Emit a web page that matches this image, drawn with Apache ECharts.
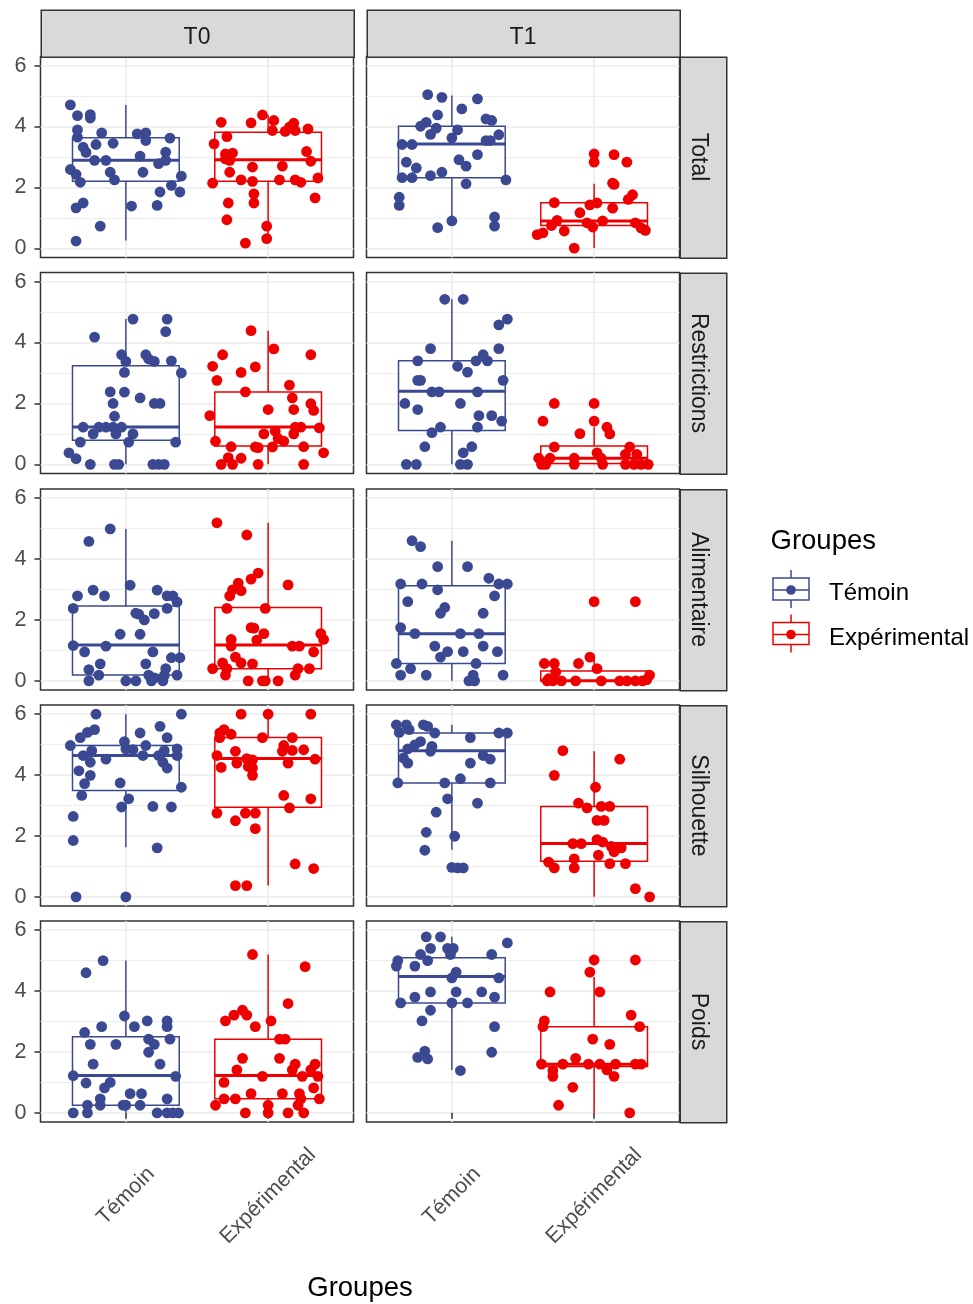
<!DOCTYPE html>
<html><head><meta charset="utf-8">
<script src="https://cdn.jsdelivr.net/npm/echarts@6/dist/echarts.min.js"></script>
<style>html,body{margin:0;padding:0;background:#fff}#c{width:973px;height:1304px}</style>
</head><body><div id="c"></div>
<script>
// ---------- categories ----------
const facets = ['Total', 'Restrictions', 'Alimentaire', 'Silhouette', 'Poids'];
const times = ['T0', 'T1'];
const groups = ['Témoin', 'Expérimental'];
const yTicks = [0, 2, 4, 6];
const yMinor = [1, 3, 5];
const xTicks = [1, 2];

// ---------- jittered points [x, value] ----------
const total_T0_temoin = [[0.61,4.71],[0.66,4.36],[0.75,4.28],[0.75,4.39],[0.66,3.89],[0.66,3.65],[0.83,3.79],[1.08,3.76],[1.14,3.79],[1.14,3.54],[1.31,3.62],[0.70,3.32],[0.72,3.15],[0.79,3.41],[0.91,3.45],[0.78,2.89],[0.86,2.89],[1.10,3.03],[1.28,3.16],[1.28,2.89],[1.23,2.78],[0.61,2.59],[0.65,2.43],[0.68,2.17],[0.89,2.50],[0.92,2.25],[1.12,2.50],[1.39,2.37],[1.32,2.07],[1.38,1.85],[1.24,1.85],[1.22,1.41],[1.04,1.39],[0.70,1.49],[0.65,1.33],[0.82,0.73],[0.65,0.24]];
const total_T0_exp = [[1.67,4.14],[1.62,3.43],[1.71,3.67],[1.88,4.12],[1.96,4.38],[2.04,4.20],[2.03,3.87],[2.12,3.84],[2.18,4.11],[2.15,3.98],[2.19,3.87],[2.28,3.92],[1.70,3.10],[1.75,3.13],[1.73,2.89],[1.70,2.94],[2.27,3.18],[2.30,2.86],[1.61,2.14],[1.73,2.50],[1.81,2.25],[1.89,2.20],[1.89,2.67],[2.10,2.70],[2.08,2.25],[2.19,2.25],[2.23,2.17],[2.35,2.31],[2.33,1.66],[1.72,1.49],[1.90,1.79],[1.90,1.49],[1.71,0.94],[1.99,0.73],[1.99,0.32],[1.84,0.17]];
const total_T1_temoin = [[0.83,5.05],[0.93,4.96],[1.18,4.91],[1.07,4.58],[0.90,4.38],[0.82,4.14],[0.78,4.01],[0.89,3.95],[0.85,3.74],[1.04,3.89],[1.00,3.63],[1.24,4.25],[1.28,4.20],[1.33,3.73],[1.24,3.54],[1.27,3.54],[0.65,3.41],[0.72,3.41],[0.68,2.83],[0.75,2.64],[1.05,2.91],[1.10,2.70],[1.18,3.08],[0.65,2.32],[0.72,2.32],[0.85,2.39],[0.93,2.50],[1.38,2.25],[1.10,2.12],[0.63,1.68],[0.63,1.41],[0.90,0.68],[1.00,0.90],[1.30,1.03],[1.30,0.73]];
const total_T1_exp = [[2.00,3.10],[2.00,2.83],[2.14,3.08],[2.23,2.83],[2.13,2.14],[2.14,2.10],[2.27,1.76],[2.24,1.61],[1.72,1.50],[1.97,1.43],[2.02,1.49],[2.13,1.32],[1.90,1.17],[1.74,0.92],[1.70,0.75],[1.79,0.57],[1.64,0.51],[1.60,0.45],[1.95,0.84],[1.99,0.70],[2.06,0.90],[2.29,0.84],[2.33,0.67],[2.36,0.59],[1.86,0.01]];

const restr_T0_temoin = [[1.05,4.77],[1.29,4.77],[1.28,4.36],[0.78,4.18],[0.97,3.60],[1.00,3.38],[1.14,3.60],[1.16,3.46],[1.20,3.38],[1.32,3.40],[0.99,3.02],[1.39,3.00],[0.89,2.38],[0.99,2.37],[1.10,2.18],[0.91,2.00],[1.20,2.00],[1.24,2.00],[0.92,1.58],[0.70,1.22],[0.81,1.22],[0.86,1.22],[0.91,1.22],[0.97,1.22],[0.77,1.00],[0.93,1.00],[1.05,1.00],[0.68,0.73],[1.02,0.73],[1.35,0.73],[0.60,0.38],[0.65,0.19],[0.75,0.00],[0.92,0.00],[0.95,0.00],[1.19,0.00],[1.23,0.00],[1.27,0.00]];
const restr_T0_exp = [[1.88,4.39],[2.04,3.79],[1.68,3.60],[2.30,3.60],[1.61,3.22],[1.81,3.02],[1.91,3.20],[1.64,2.76],[1.84,2.38],[2.15,2.60],[2.17,2.18],[1.59,1.60],[2.00,1.80],[2.18,1.80],[2.30,1.99],[2.32,1.77],[2.19,1.22],[2.23,1.22],[2.36,1.20],[1.97,1.00],[2.05,1.09],[2.18,1.00],[1.63,0.76],[2.07,0.85],[2.11,0.76],[1.74,0.58],[1.91,0.57],[1.93,0.55],[2.03,0.57],[2.25,0.58],[2.39,0.38],[1.67,0.00],[1.72,0.22],[1.75,0.00],[1.81,0.20],[1.93,0.00],[2.25,0.00]];
const restr_T1_temoin = [[0.95,5.42],[1.08,5.42],[1.39,4.77],[1.33,4.58],[0.85,3.80],[1.33,3.80],[0.76,3.40],[1.17,3.40],[1.22,3.60],[1.25,3.40],[1.04,3.22],[1.11,3.03],[0.76,2.76],[0.78,2.76],[1.36,2.76],[0.86,2.38],[0.91,2.38],[1.18,2.38],[0.67,2.00],[0.76,1.80],[1.06,2.00],[1.19,1.60],[1.28,1.60],[1.35,1.42],[0.92,1.22],[0.86,1.04],[1.18,1.22],[0.81,0.58],[1.14,0.58],[1.08,0.38],[0.68,0.00],[0.75,0.00],[1.06,0.00],[1.11,0.00]];
const restr_T1_exp = [[1.72,2.00],[2.00,2.00],[1.64,1.42],[2.00,1.42],[2.09,1.22],[2.11,1.00],[1.90,1.01],[1.72,0.57],[2.02,0.38],[2.25,0.57],[1.61,0.20],[1.69,0.20],[1.86,0.20],[2.05,0.20],[2.22,0.33],[2.30,0.33],[1.63,0.00],[1.66,0.00],[1.86,0.00],[2.06,0.00],[2.22,0.00],[2.28,0.00],[2.33,0.00],[2.38,0.00]];

const alim_T0_temoin = [[0.89,4.99],[0.74,4.58],[1.03,3.14],[0.77,2.98],[0.66,2.79],[0.85,2.79],[1.22,2.98],[1.29,2.79],[1.33,2.79],[1.36,2.59],[0.63,2.38],[1.29,2.38],[1.07,2.22],[1.09,2.19],[1.13,2.00],[1.20,2.21],[0.96,1.53],[1.10,1.53],[0.63,1.16],[0.86,1.14],[0.71,0.95],[1.19,0.95],[1.32,0.76],[1.38,0.76],[0.82,0.56],[1.14,0.56],[0.74,0.37],[0.81,0.19],[1.28,0.40],[1.16,0.19],[1.36,0.19],[0.74,0.00],[1.00,0.00],[1.07,0.00],[1.18,0.00],[1.20,0.10],[1.26,0.00],[1.27,0.18]];
const alim_T0_exp = [[1.64,5.19],[1.85,4.79],[1.93,3.54],[1.88,3.34],[1.79,3.21],[1.75,2.99],[1.81,2.96],[1.73,2.79],[2.14,3.15],[1.71,2.38],[1.98,2.38],[1.88,1.75],[1.90,1.73],[1.97,1.55],[1.92,1.34],[1.74,1.36],[1.74,1.14],[2.17,1.14],[2.22,1.14],[2.37,1.55],[2.39,1.36],[2.32,0.95],[1.77,0.78],[1.81,0.59],[1.68,0.59],[1.89,0.56],[1.61,0.40],[1.71,0.40],[1.70,0.19],[2.21,0.40],[2.29,0.40],[2.19,0.19],[1.86,0.00],[1.96,0.00],[1.98,0.00],[2.07,0.00]];
const alim_T1_temoin = [[0.72,4.60],[0.78,4.41],[0.90,3.75],[1.11,3.75],[0.64,3.18],[0.79,3.18],[0.90,2.99],[1.26,3.37],[1.33,3.18],[1.39,3.18],[1.30,2.79],[0.69,2.60],[0.95,2.41],[0.92,2.22],[1.22,2.22],[0.64,1.75],[0.74,1.55],[1.06,1.55],[1.19,1.55],[0.88,1.14],[1.22,1.14],[0.97,0.96],[1.08,0.96],[1.32,0.96],[0.92,0.78],[0.61,0.57],[0.71,0.40],[1.17,0.57],[0.64,0.19],[0.82,0.19],[1.36,0.19],[1.15,0.19],[1.12,0.00],[1.16,0.00]];
const alim_T1_exp = [[2.00,2.60],[2.29,2.60],[1.97,0.78],[1.65,0.57],[1.72,0.57],[1.89,0.57],[2.02,0.40],[1.73,0.29],[1.68,0.07],[2.39,0.19],[1.67,0.00],[1.71,0.00],[1.77,0.00],[1.87,0.00],[2.05,0.00],[2.18,0.00],[2.23,0.00],[2.29,0.00],[2.34,0.00],[2.37,0.04]];

const sil_T0_temoin = [[0.79,6.00],[1.39,6.00],[0.78,5.49],[0.73,5.40],[0.68,5.23],[0.61,4.97],[1.10,5.38],[1.24,5.60],[1.29,5.23],[0.99,5.10],[1.00,4.86],[1.05,4.83],[1.14,4.97],[0.76,4.80],[0.70,4.64],[1.12,4.64],[1.27,4.80],[1.36,4.86],[1.36,4.64],[1.23,4.64],[0.86,4.52],[0.75,4.42],[1.26,4.42],[1.29,4.23],[0.67,4.14],[0.75,3.99],[0.71,3.72],[0.96,3.74],[1.39,3.60],[0.69,3.33],[1.02,3.22],[0.97,2.95],[1.19,2.97],[1.32,2.95],[0.63,2.64],[0.63,1.85],[1.22,1.61],[0.65,0.00],[1.00,0.00]];
const sil_T0_exp = [[1.81,6.00],[2.00,6.00],[2.30,6.00],[1.66,5.38],[1.69,5.49],[1.74,5.34],[1.66,5.23],[1.96,5.23],[2.17,5.23],[2.11,4.97],[2.10,4.78],[2.17,4.81],[2.25,4.83],[1.77,4.78],[1.64,4.64],[1.85,4.54],[1.89,4.50],[1.78,4.39],[1.86,4.28],[1.89,4.23],[1.67,4.25],[2.14,4.39],[2.33,4.52],[1.89,3.99],[2.11,3.33],[2.30,3.22],[1.64,2.75],[1.84,2.75],[1.91,2.75],[2.15,2.92],[1.77,2.50],[1.91,2.24],[2.19,1.08],[2.32,0.93],[1.77,0.37],[1.85,0.37]];
const sil_T1_temoin = [[0.61,5.65],[0.68,5.65],[0.80,5.65],[0.83,5.60],[0.70,5.49],[0.63,5.40],[0.88,5.38],[1.33,5.38],[1.39,5.38],[1.13,5.23],[0.78,5.10],[0.74,4.99],[0.69,4.86],[0.86,4.94],[0.85,4.78],[0.66,4.56],[0.69,4.39],[1.13,4.39],[1.22,4.64],[1.27,4.52],[0.62,3.74],[0.95,3.74],[1.06,3.88],[1.27,3.74],[0.97,3.22],[1.18,3.08],[0.89,2.78],[0.82,2.12],[1.02,1.99],[0.81,1.53],[1.00,0.97],[1.04,0.95],[1.08,0.95]];
const sil_T1_exp = [[1.78,4.80],[2.18,4.52],[1.72,3.99],[2.01,3.60],[1.89,3.08],[1.95,2.92],[2.05,2.97],[2.11,2.97],[2.02,2.51],[2.07,2.51],[1.85,1.75],[1.91,1.75],[2.02,1.88],[2.06,1.80],[2.12,1.66],[2.19,1.61],[2.14,1.48],[2.03,1.37],[1.68,1.14],[1.72,0.95],[1.86,1.25],[1.86,0.95],[2.11,1.09],[2.22,1.09],[2.29,0.27],[2.39,0.00]];

const poids_T0_temoin = [[0.84,5.00],[0.72,4.60],[0.99,3.18],[1.15,3.02],[1.29,3.02],[1.29,2.83],[0.83,2.83],[1.06,2.83],[0.71,2.64],[1.16,2.42],[1.31,2.42],[0.75,2.25],[0.93,2.25],[1.20,2.25],[1.16,1.99],[1.24,1.60],[0.77,1.60],[0.63,1.22],[1.35,1.20],[0.72,0.98],[0.89,1.00],[0.85,0.82],[1.03,0.63],[1.11,0.63],[0.82,0.46],[1.29,0.46],[0.73,0.25],[0.82,0.25],[0.98,0.25],[1.00,0.25],[1.10,0.25],[0.63,0.00],[0.73,0.00],[1.22,0.00],[1.29,0.00],[1.33,0.00],[1.37,0.00]];
const poids_T0_exp = [[1.89,5.20],[2.26,4.80],[2.14,3.59],[1.82,3.37],[1.76,3.21],[1.85,3.21],[1.70,3.02],[2.02,3.02],[1.91,2.83],[2.08,2.42],[2.12,2.42],[1.82,1.79],[2.08,1.79],[2.19,1.60],[2.33,1.60],[1.78,1.41],[2.17,1.41],[2.30,1.41],[1.96,1.20],[2.24,1.20],[2.35,1.20],[1.69,1.00],[2.32,0.82],[1.88,0.63],[2.10,0.63],[2.22,0.63],[1.69,0.46],[1.77,0.46],[2.23,0.46],[2.36,0.46],[1.63,0.25],[2.00,0.25],[2.21,0.25],[1.84,0.00],[2.00,0.00],[2.14,0.00],[2.25,0.00]];
const poids_T1_temoin = [[0.82,5.78],[0.92,5.78],[1.39,5.58],[0.85,5.40],[0.97,5.40],[1.01,5.40],[0.99,5.20],[0.78,5.20],[1.28,5.20],[0.83,5.00],[0.62,5.00],[0.61,4.82],[0.74,4.82],[1.03,4.62],[1.00,4.43],[1.33,4.43],[0.74,3.80],[0.85,3.97],[1.03,3.97],[1.21,3.97],[1.30,3.80],[0.64,3.61],[1.00,3.61],[1.11,3.61],[0.85,3.37],[0.79,3.02],[1.30,2.83],[0.81,2.03],[0.76,1.82],[0.83,1.77],[1.28,1.99],[1.06,1.39]];
const poids_T1_exp = [[2.00,5.02],[2.29,5.02],[1.97,4.62],[1.69,3.97],[2.04,3.97],[2.26,3.21],[1.65,3.02],[1.64,2.83],[2.32,2.83],[1.99,2.42],[2.11,2.25],[1.87,1.79],[1.63,1.60],[1.78,1.60],[1.96,1.60],[2.04,1.60],[2.15,1.60],[2.29,1.60],[2.33,1.60],[1.71,1.39],[1.71,1.20],[2.09,1.41],[2.14,1.20],[1.85,0.84],[1.75,0.25],[2.25,0.00]];

// ---------- box statistics [lower whisker, Q1, median, Q3, upper whisker] ----------
const box_total_T0 = [[0.26,2.20,2.89,3.63,4.71],[0.19,2.20,2.91,3.81,4.38]];
const box_total_T1 = [[0.86,2.32,3.43,4.01,5.02],[0.01,0.75,0.90,1.50,2.12]];
const box_restr_T0 = [[0,0.79,1.23,3.24,4.77],[0,0.60,1.23,2.38,4.39]];
const box_restr_T1 = [[0,1.11,2.40,3.40,5.42],[0,0.03,0.20,0.60,1.22]];
const box_alim_T0 = [[0,0.19,1.18,2.46,4.99],[0,0.40,1.18,2.41,5.19]];
const box_alim_T1 = [[0,0.57,1.55,3.12,4.60],[0,0,0,0.32,0.78]];
const box_sil_T0 = [[1.63,3.49,4.64,4.97,6.0],[0.37,2.94,4.54,5.23,6.0]];
const box_sil_T1 = [[1.55,3.74,4.80,5.38,5.65],[0,1.17,1.75,2.97,4.78]];
const box_poids_T0 = [[0,0.25,1.23,2.50,5.0],[0,0.46,1.23,2.42,5.2]];
const box_poids_T1 = [[1.41,3.61,4.48,5.09,5.78],[0,1.52,1.60,2.83,4.46]];

// ---------- tables for the library ----------
const pointTable = [
  [[total_T0_temoin,total_T0_exp],[total_T1_temoin,total_T1_exp]],
  [[restr_T0_temoin,restr_T0_exp],[restr_T1_temoin,restr_T1_exp]],
  [[alim_T0_temoin,alim_T0_exp],[alim_T1_temoin,alim_T1_exp]],
  [[sil_T0_temoin,sil_T0_exp],[sil_T1_temoin,sil_T1_exp]],
  [[poids_T0_temoin,poids_T0_exp],[poids_T1_temoin,poids_T1_exp]]
];
const boxTable = [
  [box_total_T0, box_total_T1],
  [box_restr_T0, box_restr_T1],
  [box_alim_T0, box_alim_T1],
  [box_sil_T0, box_sil_T1],
  [box_poids_T0, box_poids_T1]
];

// ---------- styling / layout ----------
const COLORS = ['#3B4992', '#EE0000'];
const FONT = 'Liberation Sans, Arial, Helvetica, sans-serif';
const COL_LEFT = [40.5, 366.5];
const PW = 313;
const ROW_TOP = [56.5, 272.5, 489, 705, 921];
const PH = 201;
const BOX_HALF = 0.375;

function renderBox(params, api) {
  const x = api.value(0);
  const lo = api.value(1), q1 = api.value(2), med = api.value(3), q3 = api.value(4), hi = api.value(5);
  const color = COLORS[params.dataIndex];
  const c = v => api.coord([x, v]);
  const tl = api.coord([x - BOX_HALF, q3]);
  const br = api.coord([x + BOX_HALF, q1]);
  const ml = api.coord([x - BOX_HALF, med]);
  const mr = api.coord([x + BOX_HALF, med]);
  const lw = 1.5;
  return {
    type: 'group',
    children: [
      { type: 'line', shape: { x1: c(hi)[0], y1: c(hi)[1], x2: c(q3)[0], y2: c(q3)[1] }, style: { stroke: color, lineWidth: lw } },
      { type: 'line', shape: { x1: c(lo)[0], y1: c(lo)[1], x2: c(q1)[0], y2: c(q1)[1] }, style: { stroke: color, lineWidth: lw } },
      { type: 'rect', shape: { x: tl[0], y: tl[1], width: br[0] - tl[0], height: br[1] - tl[1] }, style: { fill: '#ffffff', stroke: color, lineWidth: lw } },
      { type: 'line', shape: { x1: ml[0], y1: ml[1], x2: mr[0], y2: mr[1] }, style: { stroke: color, lineWidth: 3 } }
    ]
  };
}

const grids = [], xAxes = [], yAxes = [], series = [], graphics = [];

for (let r = 0; r < facets.length; r++) {
  for (let c = 0; c < times.length; c++) {
    const g = r * 2 + c;
    const bottom = r === facets.length - 1;
    const left = c === 0;
    grids.push({ left: COL_LEFT[c], top: ROW_TOP[r], width: PW, height: PH, show: true,
      borderColor: '#333333', borderWidth: 1.5, backgroundColor: '#ffffff', containLabel: false });
    xAxes.push({
      type: 'value', gridIndex: g, min: 0.4, max: 2.6, position: 'bottom',
      axisLine: { show: false },
      axisTick: { show: bottom, customValues: xTicks, length: 6, lineStyle: { color: '#333333', width: 1.5 } },
      axisLabel: { show: bottom, customValues: xTicks, rotate: 45, margin: 74, align: 'center', verticalAlign: 'middle',
        fontFamily: FONT, fontSize: 21.5, color: '#4D4D4D', formatter: v => groups[Math.round(v) - 1] },
      splitLine: { show: true, lineStyle: { color: '#EBEBEB', width: 1.6 } }
    });
    yAxes.push({
      type: 'value', gridIndex: g, min: -0.3, max: 6.3, position: 'left',
      axisLine: { show: false },
      axisTick: { show: left, customValues: yTicks, length: 6, lineStyle: { color: '#333333', width: 1.5 } },
      axisLabel: { show: left, customValues: yTicks, margin: 14, fontFamily: FONT, fontSize: 21.5, color: '#4D4D4D' },
      splitLine: { show: true, lineStyle: { color: '#EBEBEB', width: 1.6 } }
    });
    yAxes.push({
      type: 'value', gridIndex: g, min: -0.3, max: 6.3, position: 'right',
      axisLine: { show: false },
      axisTick: { show: false, customValues: yMinor },
      axisLabel: { show: false, customValues: yMinor },
      splitLine: { show: true, lineStyle: { color: '#EBEBEB', width: 0.9 } }
    });

    const boxes = boxTable[r][c];
    series.push({
      type: 'custom', xAxisIndex: g, yAxisIndex: g * 2, z: 2, silent: true,
      renderItem: renderBox,
      encode: { x: 0, y: [1, 2, 3, 4, 5] },
      data: boxes.map((b, i) => [xTicks[i]].concat(b))
    });
    for (let k = 0; k < groups.length; k++) {
      series.push({
        type: 'scatter', name: groups[k], xAxisIndex: g, yAxisIndex: g * 2, z: 3, silent: true,
        symbol: 'circle', symbolSize: 10.8,
        itemStyle: { color: COLORS[k], opacity: 1 },
        data: pointTable[r][c][k]
      });
    }
  }
}

// facet strips (top)
for (let c = 0; c < times.length; c++) {
  graphics.push({ type: 'rect', left: COL_LEFT[c], top: 9.5, shape: { width: PW, height: 47 },
    style: { fill: '#D9D9D9', stroke: '#333333', lineWidth: 1.5 }, z: 10 });
  graphics.push({ type: 'text', x: COL_LEFT[c] + PW / 2, y: 37.5, z: 11,
    style: { text: times[c], fill: '#1A1A1A', font: '23px ' + FONT, textAlign: 'center', textVerticalAlign: 'middle' } });
}
// facet strips (right)
for (let r = 0; r < facets.length; r++) {
  graphics.push({ type: 'rect', left: COL_LEFT[1] + PW, top: ROW_TOP[r], shape: { width: 46.5, height: PH },
    style: { fill: '#D9D9D9', stroke: '#333333', lineWidth: 1.5 }, z: 10 });
  graphics.push({ type: 'text', x: COL_LEFT[1] + PW + 18.5, y: ROW_TOP[r] + PH / 2, rotation: -Math.PI / 2, z: 11,
    style: { text: facets[r], fill: '#1A1A1A', font: '23px ' + FONT, textAlign: 'center', textVerticalAlign: 'middle' } });
}
// x-axis title
graphics.push({ type: 'text', x: (COL_LEFT[0] + COL_LEFT[1] + PW) / 2, y: 1288, z: 11,
  style: { text: 'Groupes', fill: '#000000', font: '27.5px ' + FONT, textAlign: 'center', textVerticalAlign: 'middle' } });

// legend
graphics.push({ type: 'text', x: 770.5, y: 541, z: 11,
  style: { text: 'Groupes', fill: '#000000', font: '27.5px ' + FONT, textAlign: 'left', textVerticalAlign: 'middle' } });
const legendY = [589.5, 634];
for (let k = 0; k < groups.length; k++) {
  const cy = legendY[k];
  const col = COLORS[k];
  graphics.push({ type: 'line', shape: { x1: 791, y1: cy - 19.5, x2: 791, y2: cy + 18.5 }, style: { stroke: col, lineWidth: 1.5 }, z: 11 });
  graphics.push({ type: 'rect', shape: { x: 773, y: cy - 11.5, width: 36, height: 22 }, style: { fill: '#ffffff', stroke: col, lineWidth: 1.5 }, z: 12 });
  graphics.push({ type: 'line', shape: { x1: 773, y1: cy + 0.5, x2: 809, y2: cy + 0.5 }, style: { stroke: col, lineWidth: 1.5 }, z: 13 });
  graphics.push({ type: 'circle', shape: { cx: 791, cy: cy + 0.5, r: 4.8 }, style: { fill: col }, z: 14 });
  graphics.push({ type: 'text', x: 829, y: cy + 4, z: 11,
    style: { text: groups[k], fill: '#000000', font: '24px ' + FONT, textAlign: 'left', textVerticalAlign: 'middle' } });
}

const chart = echarts.init(document.getElementById('c'), null, { renderer: 'canvas' });
chart.setOption({
  backgroundColor: '#ffffff',
  animation: false,
  grid: grids,
  xAxis: xAxes,
  yAxis: yAxes,
  series: series,
  graphic: graphics
});
</script></body></html>
